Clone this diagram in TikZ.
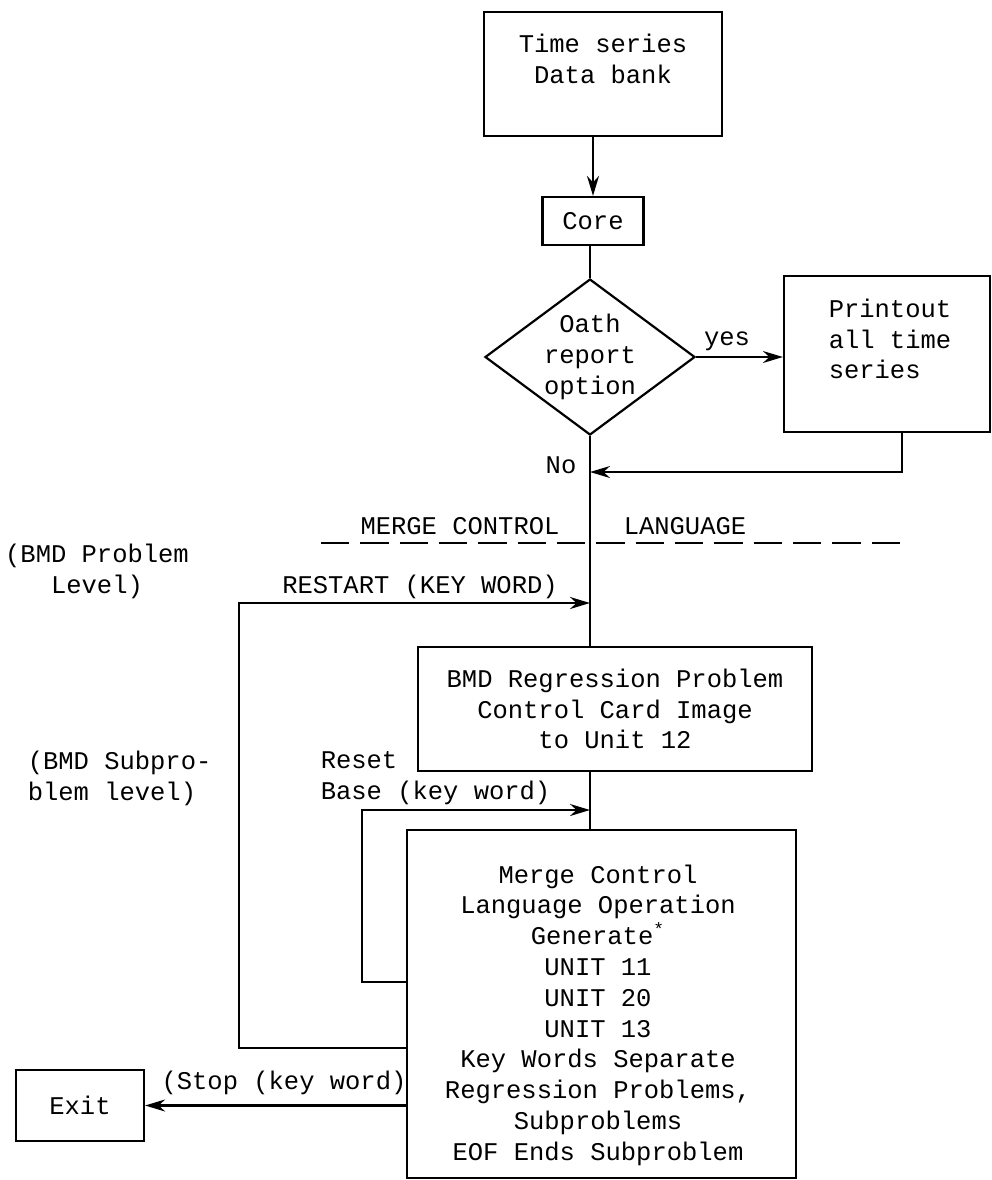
\documentclass[tikz,border=0pt]{standalone}
\usepackage{fontspec}
\setmainfont{Liberation Mono}
\usetikzlibrary{arrows.meta,shapes.geometric}
\tikzset{
	box/.style={draw,inner sep=0pt},
	arr/.style={-{Stealth[length=10pt,width=6pt]}},
	sepline/.style={dash pattern=on 14.1pt off 5.57pt}
}
\begin{document}
\begin{tikzpicture}[x=0.5pt,y=-0.5pt,line width=1.1pt,
	every node/.style={font=\fontsize{12.75}{15.4}\selectfont}]
	\useasboundingbox (0,0) rectangle (992,1180);
	\node[box,minimum width=119pt,minimum height=62pt] (bank) at (603,74) {};
	\node[align=center] (banktext) at (603,59) {Time series\\Data bank};
	\node[box,minimum width=50.5pt,minimum height=24pt] (core) at (593,221) {Core};
	\node[draw,diamond,aspect=1.35,inner sep=0pt,minimum width=105pt,minimum height=78pt,align=center] (oath) at (590,357) {Oath\\report\\option};
	\node[box,minimum width=103pt,minimum height=78pt] (prn) at (887,354) {};
	\node[align=left] (prntext) at (890,339) {Printout\\all time\\series};
	\node (yes) at (727,341) {yes};
	\node (no) at (561,465) {No};
	\coordinate (nojoin) at (590,472);
	\draw[arr] (bank.south -| core.north) -- (core.north);
	\draw (core.south -| oath.north) -- (oath.north);
	\draw[arr] (oath.east) -- (oath.east -| prn.west);
	\draw[arr] ([xshift=7.5pt]prn.south) |- (nojoin);
	\draw[sepline] (321,543) -- (900,543);
	\node (mc) at (460,526) {MERGE CONTROL};
	\node (lang) at (685,526) {LANGUAGE};
	\node[align=center] (plevel) at (97,571) {(BMD Problem\\Level)};
	\node (rst) at (420,587) {RESTART (KEY WORD)};
	\node[box,minimum width=197pt,minimum height=62pt,align=center] (bmd) at (615,709) {BMD Regression Problem\\Control Card Image\\to Unit 12};
	\draw (oath.south) -- (oath.south |- bmd.north);
	\node[align=left,anchor=west] (slevel) at (20,778) {(BMD Subpro-\\blem level)};
	\node[align=left,anchor=west] (rsb) at (313,778) {Reset\\Base (key word)};
	\node[box,minimum width=194.5pt,minimum height=174pt] (mrg) at (601.5,1004) {};
	\node[align=center] (mrgtext) at (598,1015) {Merge Control\\Language Operation\\Generate\textsuperscript{*}\\UNIT 11\\UNIT 20\\UNIT 13\\Key Words Separate\\Regression Problems,\\Subproblems\\EOF Ends Subproblem};
	\draw (bmd.south -| oath.south) -- (mrg.north -| oath.south);
	\node[box,minimum width=64pt,minimum height=35.5pt] (exit) at (80,1105.5) {Exit};
	\node (stop) at (284,1083) {(Stop (key word)};
	\coordinate (rstcorner) at (239,603);
	\coordinate (rsbcorner) at (362,810);
	\draw[arr] ([yshift=-22pt]mrg.west) -| (rstcorner) -- (rstcorner -| oath.south);
	\draw[arr] ([yshift=11pt]mrg.west) -| (rsbcorner) -- (rsbcorner -| oath.south);
	\draw[arr] (mrg.west |- exit.east) -- (exit.east);
\end{tikzpicture}
\end{document}
